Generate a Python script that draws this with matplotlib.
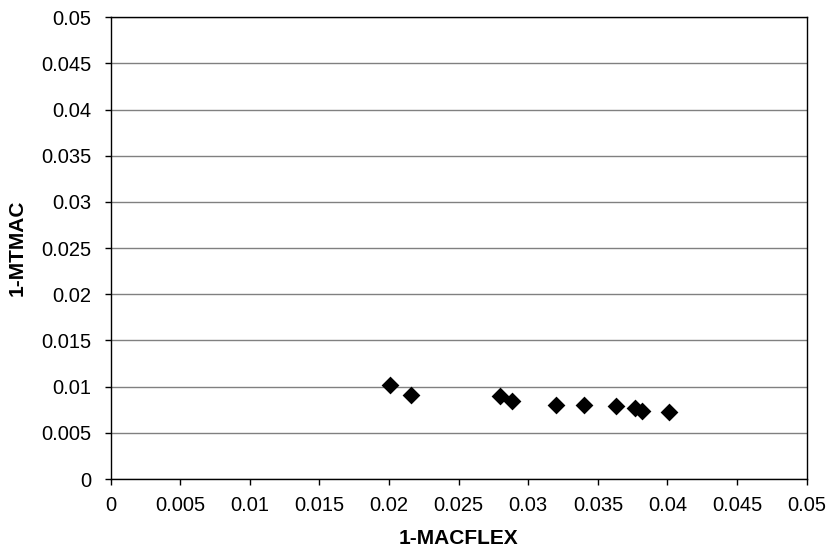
import matplotlib
matplotlib.use("Agg")
import matplotlib.pyplot as plt
import numpy as np

plt.rcParams['font.family'] = ['Liberation Sans', 'DejaVu Sans']

# 1-MACFLEX vs 1-MTMAC readings
macflex = [0.0201, 0.02155, 0.02797, 0.02881, 0.03201, 0.03402, 0.03628, 0.03767, 0.03819, 0.04011]
mtmac = [0.01018, 0.00913, 0.00899, 0.00848, 0.00805, 0.00805, 0.00794, 0.00772, 0.0074, 0.00726]

ticks = np.arange(0, 0.0501, 0.005)
tick_labels = ["0", "0.005", "0.01", "0.015", "0.02", "0.025", "0.03",
               "0.035", "0.04", "0.045", "0.05"]

fig = plt.figure(figsize=(8.33, 5.47), dpi=100)
ax = fig.add_axes([0.1329, 0.1243, 0.9684 - 0.1329, 0.9684 - 0.1243])

ax.scatter(macflex, mtmac, marker='D', s=82, color='black', zorder=3, linewidths=0)

ax.set_xlim(0, 0.05)
ax.set_ylim(0, 0.05)
ax.set_xticks(ticks)
ax.set_xticklabels(tick_labels)
ax.set_yticks(ticks)
ax.set_yticklabels(tick_labels)

ax.yaxis.grid(True, color='#808080', linewidth=1)
ax.set_axisbelow(True)

for s in ax.spines.values():
    s.set_color('black')
    s.set_linewidth(1)

ax.tick_params(axis='both', direction='out', length=4, width=1, labelsize=14.5,
               color='black')
ax.tick_params(axis='x', pad=8)
ax.tick_params(axis='y', pad=10)

ax.set_xlabel("1-MACFLEX", fontsize=15, fontweight='bold', labelpad=10)
ax.set_ylabel("1-MTMAC", fontsize=15, fontweight='bold', labelpad=10)

fig.savefig("out.png", dpi=100)
